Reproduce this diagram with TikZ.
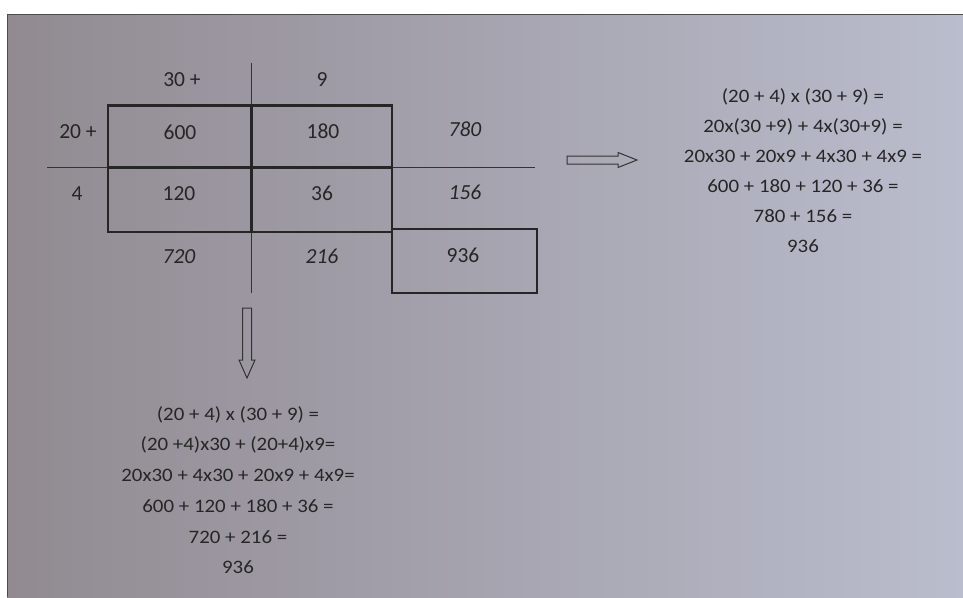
\documentclass[tikz,border=0pt]{standalone}
\usepackage{fontspec}
\setmainfont{Carlito}
\begin{document}
\begin{tikzpicture}[x=1pt,y=-1pt,
  ink/.style={color=black!85},
  cell/.style={ink,font=\fontsize{21.5}{21.5}\selectfont,inner sep=0pt},
  sumcell/.style={cell,font=\fontsize{21.5}{21.5}\selectfont\itshape},
  eq/.style={ink,font=\fontsize{19}{19}\selectfont,inner sep=0pt,xscale=1.1},
  thin line/.style={draw=black!80,line width=1.3pt},
  thick line/.style={draw=black!85,line width=2.4pt},
  hollow arrow/.style={draw=black!80,line width=1pt,line join=miter}]
\useasboundingbox (0,0) rectangle (963,597);
\fill[white] (0,0) rectangle (963,597);
\shade[left color={rgb,255:red,145;green,138;blue,145},middle color={rgb,255:red,210;green,209;blue,214},right color={rgb,255:red,186;green,189;blue,205}] (7,15) rectangle (963,597);
\draw[black!70,line width=1.2pt] (963,14.5) -- (7.5,14.5) -- (7.5,597);

% grid lines
\coordinate (vtop) at (251.5,63);
\coordinate (vbot) at (251.5,293);
\coordinate (hleft) at (47,167.5);
\coordinate (hright) at (535,167.5);
\draw[thin line] (vtop) -- (vbot);
\draw[thin line] (hleft) -- (hright);
\coordinate (boxtl) at (108,105.5);
\coordinate (boxbr) at (392,232);
\draw[thick line] (boxtl) rectangle (boxbr);
\draw[thick line] (251.5,105.5) -- (251.5,232);
\draw[thick line] (108,167.5) -- (392,167.5);
\coordinate (totl) at (392,229);
\coordinate (totbr) at (537,293);
\draw[thick line] (totl) rectangle (totbr);

% cell texts
\node[cell] (h30) at (182,80) {30 +};
\node[cell] (h9) at (322,80) {9};
\node[cell] (h20) at (78,132) {20 +};
\node[cell] (h4) at (77,194) {4};
\node[cell] (c600) at (180,132) {600};
\node[cell] (c180) at (323,131) {180};
\node[cell] (c120) at (179,194) {120};
\node[cell] (c36) at (322,193) {36};
\node[sumcell] (r780) at (465,129) {780};
\node[sumcell] (r156) at (465,192) {156};
\node[sumcell] (b720) at (179,257) {720};
\node[sumcell] (b216) at (322,256) {216};
\node[cell] (t936) at (463,255) {936};

% right arrow
\draw[hollow arrow] (567,156) -- (618,156) -- (618,152.5) -- (637,160) -- (618,167.5) -- (618,164) -- (567,164) -- cycle;
% down arrow
\draw[hollow arrow] (242.5,308) -- (242.5,360) -- (239,360) -- (247,378) -- (255,360) -- (251.5,360) -- (251.5,308) -- cycle;

% right equations
\node[eq] (ra) at (803,97) {(20 + 4) x (30 + 9) =};
\node[eq] (rb) at (803,127) {20x(30 +9) + 4x(30+9) =};
\node[eq] (rc) at (803,156) {20x30 + 20x9 + 4x30 + 4x9 =};
\node[eq] (rd) at (803,186) {600 + 180 + 120 + 36 =};
\node[eq] (re) at (803,216) {780 + 156 =};
\node[eq] (rf) at (803,246) {936};

% bottom equations
\node[eq] (ba) at (238,415) {(20 + 4) x (30 + 9) =};
\node[eq] (bb) at (238,445) {(20 +4)x30 + (20+4)x9=};
\node[eq] (bc) at (238,475) {20x30 + 4x30 + 20x9 + 4x9=};
\node[eq] (bd) at (238,506) {600 + 120 + 180 + 36 =};
\node[eq] (be) at (238,537) {720 + 216 =};
\node[eq] (bf) at (238,567) {936};
\end{tikzpicture}
\end{document}
